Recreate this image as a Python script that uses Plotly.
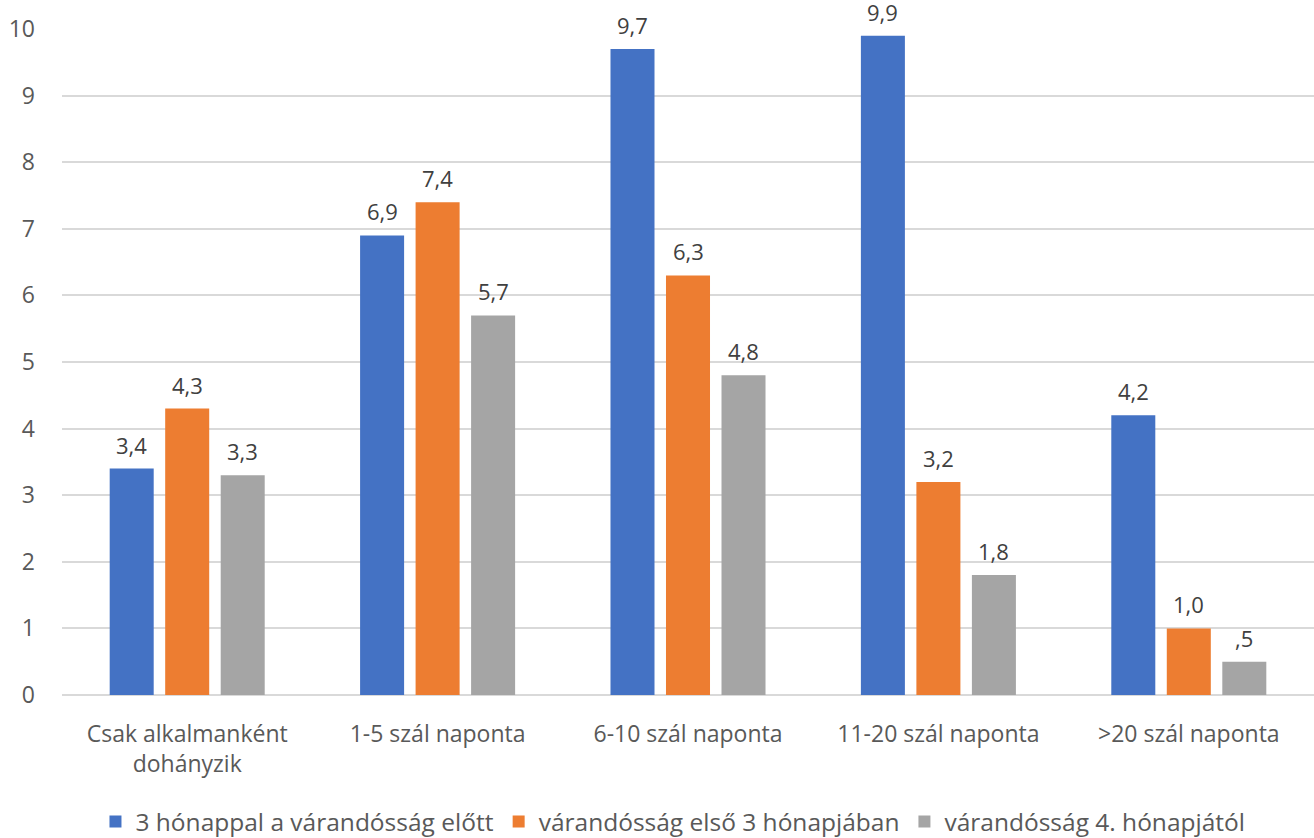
import plotly.graph_objects as go

categories = [
    "Csak alkalmanként<br>dohányzik",
    "1-5 szál naponta",
    "6-10 szál naponta",
    "11-20 szál naponta",
    ">20 szál naponta",
]
series_names = [
    "3 hónappal a várandósság előtt",
    "várandósság első 3 hónapjában",
    "várandósság 4. hónapjától",
]
before_pregnancy = [3.4, 6.9, 9.7, 9.9, 4.2]
first_trimester = [4.3, 7.4, 6.3, 3.2, 1.0]
from_fourth_month = [3.3, 5.7, 4.8, 1.8, 0.5]
y_ticks = list(range(0, 11))

colors = ["#4472C4", "#ED7D31", "#A5A5A5"]
FONT = "Open Sans"
TEXT_COLOR = "#595959"
BARGAP = 0.335
BARGROUPGAP = 0.207


def hu_label(v):
    # Hungarian decimal comma, leading zero dropped (e.g. ",5")
    s = f"{v:.1f}".replace(".", ",")
    if s.startswith("0,"):
        s = s[1:]
    return s


all_series = [before_pregnancy, first_trimester, from_fourth_month]
n_series = len(all_series)
slot = (1 - BARGAP) / n_series  # width of one bar slot in category units

fig = go.Figure()
for j, (name, vals, col) in enumerate(zip(series_names, all_series, colors)):
    fig.add_trace(go.Bar(
        x=categories,
        y=vals,
        name=name,
        marker=dict(color=col, line=dict(width=0)),
        cliponaxis=False,
    ))
    # value labels above each bar, centred on the bar's slot within the group
    offset = (j - (n_series - 1) / 2) * slot
    for i, v in enumerate(vals):
        fig.add_annotation(
            x=i + offset,
            y=v,
            xref="x",
            yref="y",
            text=hu_label(v),
            showarrow=False,
            yanchor="bottom",
            yshift=8,
            borderpad=0,
            font=dict(family=FONT, size=22, color="#404040"),
        )

fig.update_layout(
    width=1314,
    height=838,
    margin=dict(l=62, r=0, t=29, b=143, autoexpand=False),
    paper_bgcolor="white",
    plot_bgcolor="white",
    barmode="group",
    bargap=BARGAP,
    bargroupgap=BARGROUPGAP,
    font=dict(family=FONT, size=23, color=TEXT_COLOR),
    showlegend=True,
    legend=dict(
        orientation="h",
        x=0.488,
        xanchor="center",
        y=-0.19,
        yanchor="middle",
        font=dict(family=FONT, size=24.5, color=TEXT_COLOR),
        itemwidth=30,
    ),
    xaxis=dict(
        showgrid=False,
        showline=False,
        ticks="",
        ticklabelstandoff=23,
        tickfont=dict(family=FONT, size=23, color=TEXT_COLOR),
    ),
    yaxis=dict(
        range=[0, 10],
        tickvals=y_ticks,
        showgrid=True,
        gridcolor="#D9D9D9",
        gridwidth=1.5,
        zeroline=True,
        zerolinecolor="#D9D9D9",
        zerolinewidth=1.5,
        showline=False,
        ticks="",
        ticklabelstandoff=26,
        tickfont=dict(family=FONT, size=23, color=TEXT_COLOR),
    ),
)

fig.write_html("out.html")
